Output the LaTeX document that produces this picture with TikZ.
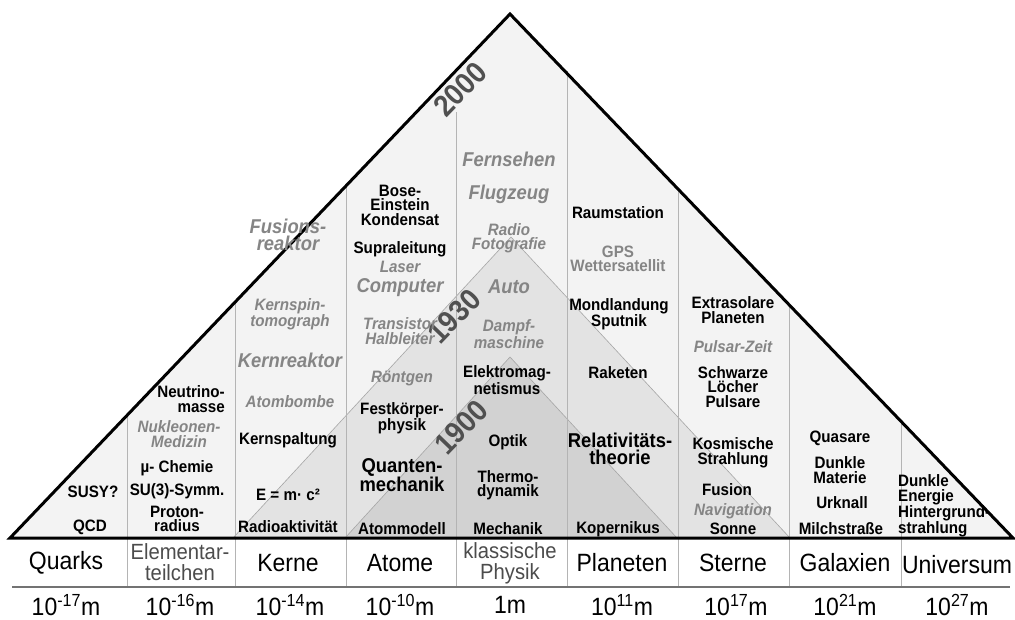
\documentclass[tikz,border=0pt]{standalone}
\usepackage{fontspec}
\setmainfont{Liberation Sans}
\newfontfamily\labfont[FakeStretch=0.92]{Liberation Sans}
\definecolor{fillout}{HTML}{F3F3F3}
\definecolor{fillmid}{HTML}{E3E3E3}
\definecolor{fillin}{HTML}{D2D2D2}
\definecolor{txtgrey}{HTML}{858585}
\definecolor{yeargrey}{HTML}{505050}
\definecolor{sepgrey}{HTML}{B4B4B4}
\tikzset{blk/.style={font=\labfont\bfseries\fontsize{16.5}{14.5}\selectfont,align=center,inner sep=0pt},
	 bigblk/.style={blk,font=\labfont\bfseries\fontsize{20}{16.5}\selectfont},
	 gry/.style={blk,font=\labfont\bfseries\itshape\fontsize{16.5}{14.5}\selectfont,text=txtgrey},
	 biggry/.style={blk,font=\labfont\bfseries\itshape\fontsize{20}{16.5}\selectfont,text=txtgrey},
	 gryup/.style={blk,text=txtgrey},
	 year/.style={font=\labfont\bfseries\fontsize{30}{30}\selectfont,text=yeargrey,rotate=46,inner sep=0pt},
	 obj/.style={font=\labfont\fontsize{25}{25}\selectfont,inner sep=0pt},
	 thinobj/.style={font=\labfont\fontsize{22}{21}\selectfont,text=black!70,align=center,inner sep=0pt},
	 scl/.style={font=\labfont\fontsize{25}{25}\selectfont,inner sep=0pt},
	 sep/.style={sepgrey,line width=0.9pt},
	 edge/.style={black,line width=3pt,line join=miter}
	 }

\begin{document}
\begin{tikzpicture}[x=1pt,y=-1pt]
	\useasboundingbox (0,0) rectangle (1015,619);
	% corners of the pyramids
	\coordinate (L) at (10,538); \coordinate (T) at (510,14); \coordinate (R) at (1013,538);
	\coordinate (mL) at (233,538); \coordinate (mT) at (511,237); \coordinate (mR) at (790,538);
	\coordinate (iL) at (345,538); \coordinate (iT) at (510,357); \coordinate (iR) at (677,538);
	\fill[fillout] (L) -- (T) -- (R) -- cycle;
	\filldraw[fill=fillmid,draw=black!35,line width=0.6pt] (mL) -- (mT) -- (mR);
	\filldraw[fill=fillin,draw=black!35,line width=0.6pt] (iL) -- (iT) -- (iR);
	% column separators
	\foreach \x/\y in {127/415,235/302,346/186,456/112,567/71,678/189,789/305,901/421}
		\draw[sep] (\x,\y) -- (\x,587);
	\draw[black!55,line width=1.3pt] (12,587) -- (1010,587);
	\draw[edge] (L) -- (T) -- (R) -- cycle;

	% years
	\node[year] (y2000) at (460,89) {2000};
	\node[year] (y1930) at (454,316) {1930};
	\node[year] (y1900) at (461,427) {1900};

	% Quarks
	\node[blk] (susy) at (93,492) {SUSY?};
	\node[blk] (qcd) at (90,527) {QCD};
	% Elementarteilchen
	\node[blk,align=right,anchor=east] (nmasse) at (225,399) {Neutrino-\\masse};
	\node[gry] (nmed) at (179,434) {Nukleonen-\\Medizin};
	\node[blk] (much) at (177,468) {µ- Chemie};
	\node[blk] (su3) at (177,491) {SU(3)-Symm.};
	\node[blk] (proton) at (177,519) {Proton-\\radius};
	% Kerne
	\node[biggry] (fusreak) at (288,235) {Fusions-\\reaktor};
	\node[gry] (kspin) at (290,314) {Kernspin-\\tomograph};
	\node[biggry] (kreak) at (290,360) {Kernreaktor};
	\node[gry] (abombe) at (290,402) {Atombombe};
	\node[blk] (kspalt) at (288,440) {Kernspaltung};
	\node[blk] (emc) at (288,495) {E = m· c²};
	\node[blk] (radak) at (288,527) {Radioaktivität};
	% Atome
	\node[blk] (bec) at (400,205) {Bose-\\Einstein\\Kondensat};
	\node[blk] (supra) at (400,249) {Supraleitung};
	\node[gry] (laser) at (400,267) {Laser};
	\node[biggry] (comp) at (400,288) {Computer};
	\node[gry] (trans) at (400,331) {Transistor\\Halbleiter};
	\node[gry] (roent) at (402,378) {Röntgen};
	\node[blk] (fest) at (402,418) {Festkörper-\\physik};
	\node[bigblk] (quant) at (402,475) {Quanten-\\mechanik};
	\node[blk] (atmod) at (402,529) {Atommodell};
	% klassische Physik
	\node[biggry] (fern) at (509,159) {Fernsehen};
	\node[biggry] (flug) at (509,194) {Flugzeug};
	\node[gry] (radfot) at (509,238) {Radio\\Fotografie};
	\node[biggry] (auto) at (509,287) {Auto};
	\node[gry] (dampf) at (509,334) {Dampf-\\maschine};
	\node[blk] (elmag) at (507,380) {Elektromag-\\netismus};
	\node[blk] (optik) at (508,442) {Optik};
	\node[blk] (thermo) at (508,485) {Thermo-\\dynamik};
	\node[blk] (mech) at (508,529) {Mechanik};
	% Planeten
	\node[blk] (raum) at (618,213) {Raumstation};
	\node[gryup] (gps) at (618,259) {GPS\\Wettersatellit};
	\node[blk] (mond) at (619,314) {Mondlandung\\Sputnik};
	\node[blk] (rak) at (618,373) {Raketen};
	\node[bigblk] (relat) at (620,449) {Relativitäts-\\theorie};
	\node[blk] (kop) at (618,529) {Kopernikus};
	% Sterne
	\node[blk] (exso) at (733,310) {Extrasolare\\Planeten};
	\node[gry] (pulz) at (733,347) {Pulsar-Zeit};
	\node[blk] (schw) at (733,387) {Schwarze\\Löcher\\Pulsare};
	\node[blk] (kosm) at (733,453) {Kosmische\\Strahlung};
	\node[blk] (fusion) at (727,490) {Fusion};
	\node[gry] (navi) at (733,511) {Navigation};
	\node[blk] (sonne) at (733,529) {Sonne};
	% Galaxien
	\node[blk] (quas) at (840,438) {Quasare};
	\node[blk] (dmat) at (840,470) {Dunkle\\Materie};
	\node[blk] (urk) at (842,503) {Urknall};
	\node[blk] (milch) at (841,529) {Milchstraße};
	% Universum
	\node[blk,align=left,anchor=west] (denerg) at (898,490) {Dunkle\\Energie};
	\node[blk,align=left,anchor=west] (hint) at (898,521) {Hintergrund-\\strahlung};

	% objects
	\node[obj] (quarks) at (66,563) {Quarks};
	\node[thinobj] (elem) at (180,562) {Elementar-\\teilchen};
	\node[obj] (kerne) at (288,563) {Kerne};
	\node[obj] (atome) at (400,563) {Atome};
	\node[thinobj] (klass) at (510,563) {klassische\\Physik};
	\node[obj] (plan) at (622,563) {Planeten};
	\node[obj] (stern) at (733,563) {Sterne};
	\node[obj] (galax) at (845,563) {Galaxien};
	\node[obj] (univ) at (957,565) {Universum};

	% sizes
	\node[scl] (m1) at (66,605) {10\textsuperscript{-17}m};
	\node[scl] (m2) at (180,605) {10\textsuperscript{-16}m};
	\node[scl] (m3) at (290,605) {10\textsuperscript{-14}m};
	\node[scl] (m4) at (400,605) {10\textsuperscript{-10}m};
	\node[scl] (m5) at (510,605) {1m};
	\node[scl] (m6) at (622,605) {10\textsuperscript{11}m};
	\node[scl] (m7) at (736,605) {10\textsuperscript{17}m};
	\node[scl] (m8) at (845,605) {10\textsuperscript{21}m};
	\node[scl] (m9) at (957,605) {10\textsuperscript{27}m};
\end{tikzpicture}
\end{document}
